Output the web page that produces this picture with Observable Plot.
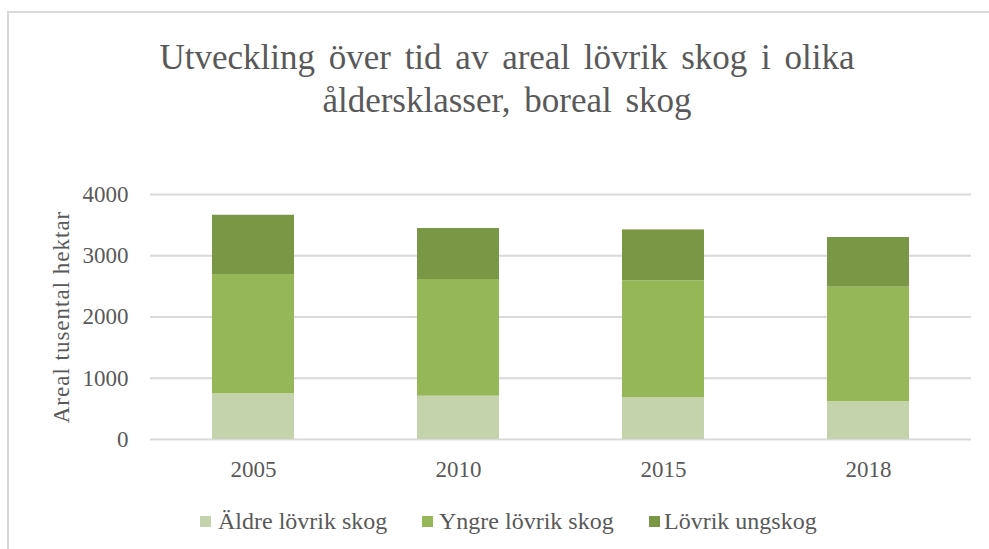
<!DOCTYPE html>
<html>
<head>
<meta charset="utf-8">
<script src="https://cdn.jsdelivr.net/npm/d3@7"></script>
<script src="https://cdn.jsdelivr.net/npm/@observablehq/plot@0.6"></script>
<style>
  html, body { margin: 0; padding: 0; background: #fff; }
  #wrap { position: relative; width: 989px; height: 549px; overflow: hidden; background: #fff;
          font-family: "Liberation Serif", "Times New Roman", serif; color: #595959; }
  #frame { position: absolute; left: 7px; top: 11px; width: 1100px; height: 600px;
           border-top: 2px solid #d9d9d9; border-left: 2px solid #d9d9d9; }
  .title { position: absolute; left: 0; width: 1014px; text-align: center; font-size: 35px;
           line-height: 42px; word-spacing: 5px; white-space: nowrap; }
  #ylab { position: absolute; left: 62px; top: 317px; font-size: 23px; letter-spacing: 1px; white-space: nowrap;
          transform: translate(-50%, -50%) rotate(-90deg); }
  #chart { position: absolute; left: 0; top: 150px; }
  .leg { position: absolute; top: 506px; font-size: 24px; line-height: 30px; white-space: nowrap; }
  .sw { position: absolute; width: 11px; height: 11px; top: 516px; }
</style>
</head>
<body>
<div id="wrap">
  <div id="frame"></div>
  <div class="title" style="top:37px">Utveckling över tid av areal lövrik skog i olika</div>
  <div class="title" style="top:80px">åldersklasser, boreal skog</div>
  <div id="ylab">Areal tusental hektar</div>
  <div id="chart"></div>
  <div id="legend"></div>
</div>
<script>
const years = ["2005", "2010", "2015", "2018"];
const series = ["Äldre lövrik skog", "Yngre lövrik skog", "Lövrik ungskog"];
const aldre = [750, 707, 680, 620];
const yngre = [1943, 1905, 1910, 1867];
const ungskog = [968, 833, 832, 811];
const yTicks = [0, 1000, 2000, 3000, 4000];
const colors = ["#c4d3ab", "#95b757", "#7a9745"];

const valuesBySeries = [aldre, yngre, ungskog];
const data = [];
series.forEach((s, i) => years.forEach((y, j) => data.push({year: y, serie: s, value: valuesBySeries[i][j]})));

const plot = Plot.plot({
  width: 989,
  height: 334,
  marginLeft: 150,
  marginRight: 18,
  marginTop: 44,
  marginBottom: 45,
  style: {fontFamily: "Liberation Serif, Times New Roman, serif", color: "#595959", background: "transparent"},
  x: {domain: years, paddingInner: 0.6, paddingOuter: 0.3, label: null},
  y: {domain: [0, 4000], label: null},
  color: {domain: series, range: colors},
  marks: [
    Plot.gridY(yTicks, {stroke: "#d9d9d9", strokeOpacity: 1, strokeWidth: 2}),
    Plot.barY(data, {x: "year", y: "value", fill: "serie", order: null}),
    Plot.axisY(yTicks, {tickSize: 0, tickPadding: 22, fontSize: 23, fill: "#595959", label: null, tickFormat: d => String(d)}),
    Plot.axisX({tickSize: 0, tickPadding: 21, fontSize: 23, fill: "#595959", label: null})
  ]
});
document.getElementById("chart").appendChild(plot);

const legendPos = [[200, 218], [422, 439], [649, 664]];
const legend = document.getElementById("legend");
series.forEach((s, i) => {
  const sw = document.createElement("div");
  sw.className = "sw";
  sw.style.left = legendPos[i][0] + "px";
  sw.style.background = colors[i];
  legend.appendChild(sw);
  const t = document.createElement("div");
  t.className = "leg";
  t.style.left = legendPos[i][1] + "px";
  t.textContent = s;
  legend.appendChild(t);
});
</script>
</body>
</html>
